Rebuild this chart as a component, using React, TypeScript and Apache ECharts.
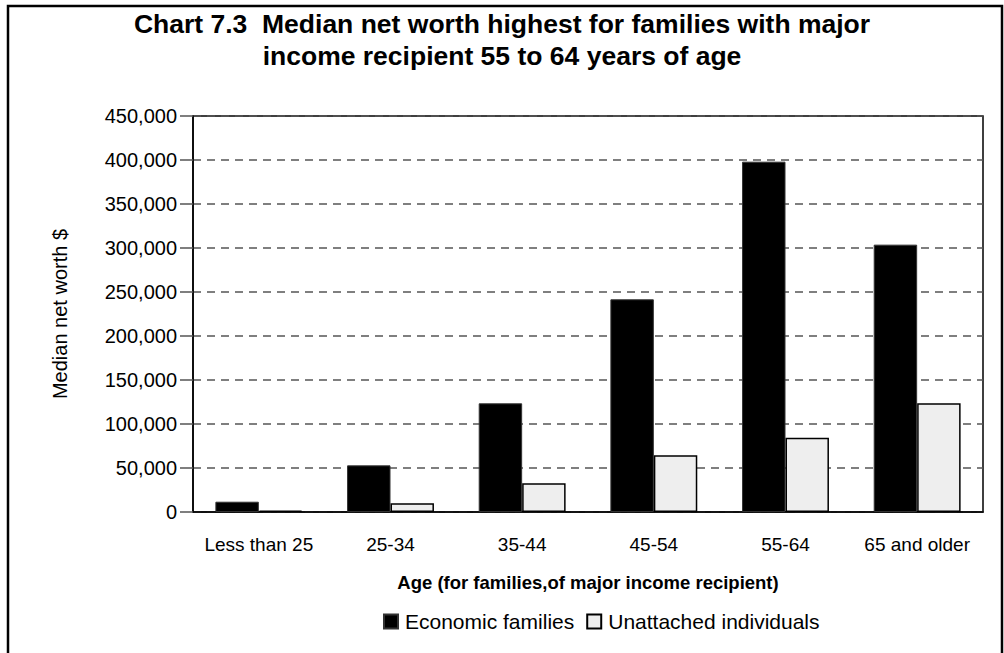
import React, { useEffect, useRef } from "react";
import * as echarts from "echarts";

const categories = ["Less than 25", "25-34", "35-44", "45-54", "55-64", "65 and older"];
const economicFamilies = [11700, 53000, 123500, 241700, 398100, 303800];
const unattachedIndividuals = [1500, 9900, 32600, 64400, 84500, 123500];
const seriesNames = ["Economic families", "Unattached individuals"];
const titleText = "Chart 7.3  Median net worth highest for families with major\nincome recipient 55 to 64 years of age";
const xAxisName = "Age (for families,of major income recipient)";
const yAxisName = "Median net worth $";

const FONT = "'Liberation Sans', Arial, sans-serif";

export default function App() {
  const ref = useRef<HTMLDivElement>(null);
  useEffect(() => {
    if (!ref.current) return;
    const chart = echarts.init(ref.current, null, { renderer: "svg" });
    chart.setOption({
      animation: false,
      backgroundColor: "#fff",
      textStyle: { fontFamily: FONT },
      title: {
        text: titleText,
        left: "center",
        top: 3,
        textStyle: {
          fontFamily: FONT,
          fontSize: 26.5,
          fontWeight: "bold",
          color: "#000",
          lineHeight: 32,
        },
      },
      legend: {
        data: seriesNames,
        left: 383,
        top: 611,
        padding: 0,
        icon: "rect",
        itemWidth: 14,
        itemHeight: 14,
        itemGap: 12,
        textStyle: { fontFamily: FONT, fontSize: 21, color: "#000", padding: [0, 0, 0, 2] },
      },
      grid: {
        left: 193,
        top: 116,
        right: 21,
        bottom: 141,
        show: true,
        borderColor: "#000",
        borderWidth: 1.5,
        backgroundColor: "transparent",
      },
      xAxis: {
        type: "category",
        data: categories,
        name: xAxisName,
        nameLocation: "middle",
        nameGap: 61,
        nameTextStyle: { fontFamily: FONT, fontSize: 18.5, fontWeight: "bold", color: "#000" },
        axisLine: { lineStyle: { color: "#000", width: 1.5 } },
        axisTick: { alignWithLabel: true, length: 13, lineStyle: { color: "#333", width: 1.5 } },
        axisLabel: { fontFamily: FONT, fontSize: 19, color: "#000", margin: 23, interval: 0 },
      },
      yAxis: {
        type: "value",
        min: 0,
        max: 450000,
        interval: 50000,
        name: yAxisName,
        nameLocation: "middle",
        nameGap: 123,
        nameTextStyle: { fontFamily: FONT, fontSize: 20, color: "#000" },
        axisLine: { show: true, lineStyle: { color: "#000", width: 1.5 } },
        axisTick: { show: true, length: 13, lineStyle: { color: "#555", width: 1.5 } },
        axisLabel: {
          fontFamily: FONT,
          fontSize: 20,
          color: "#000",
          margin: 16,
          formatter: (v: number) => v.toLocaleString("en-US"),
        },
        splitLine: { show: true, lineStyle: { color: "#555", width: 1.5, type: [8, 6] } },
      },
      series: [
        {
          name: seriesNames[0],
          type: "bar",
          data: economicFamilies,
          barGap: "0%",
          barCategoryGap: "34%",
          itemStyle: { color: "#000", borderColor: "#333", borderWidth: 1 },
        },
        {
          name: seriesNames[1],
          type: "bar",
          data: unattachedIndividuals,
          barGap: "0%",
          barCategoryGap: "34%",
          itemStyle: { color: "#eeeeee", borderColor: "#000", borderWidth: 1.5 },
        },
      ],
      graphic: [
        {
          type: "rect",
          shape: { x: 8, y: 6, width: 994, height: 700 },
          style: { fill: "none", stroke: "#000", lineWidth: 2.5 },
          silent: true,
        },
      ],
    });
    return () => chart.dispose();
  }, []);
  return (
    <div
      ref={ref}
      style={{ position: "fixed", left: 0, top: 0, width: 1004, height: 653 }}
    />
  );
}
